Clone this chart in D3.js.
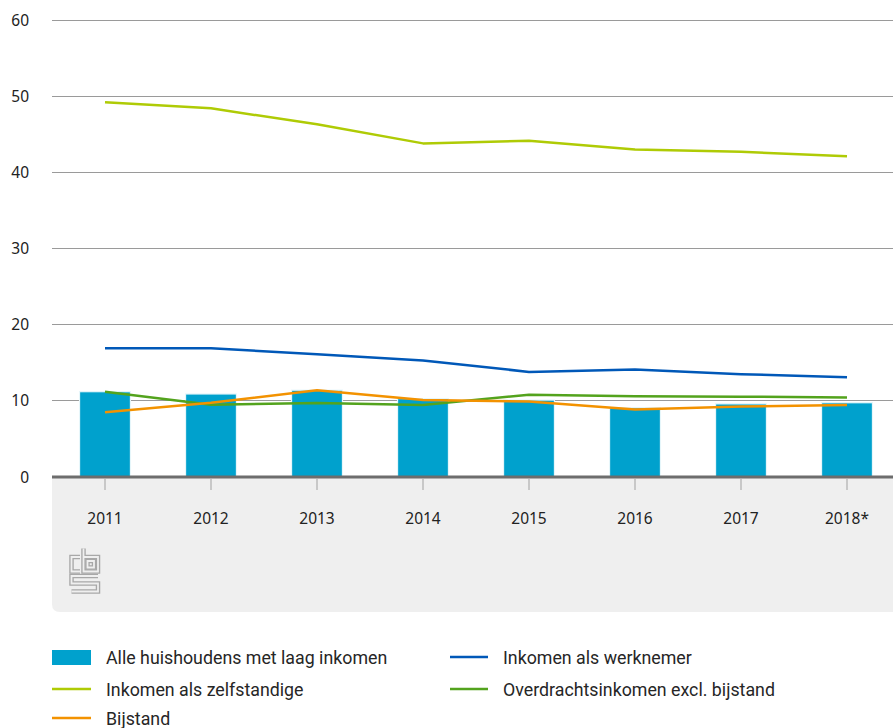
<!DOCTYPE html>
<html><head><meta charset="utf-8">
<script src="https://cdn.jsdelivr.net/npm/d3@7"></script>
<style>body{margin:0;background:#fff}svg{display:block}</style>
</head><body><svg id="c" width="893" height="728"></svg>
<script>
const years = ["2011","2012","2013","2014","2015","2016","2017","2018*"];
const yTicks = [0,10,20,30,40,50,60];
const alleHuishoudens = [11.2,10.9,11.4,10.3,10.1,9.1,9.6,9.75];
const werknemer = [16.9,16.9,16.1,15.3,13.8,14.1,13.5,13.1];
const zelfstandige = [49.2,48.4,46.3,43.8,44.15,43.0,42.7,42.1];
const overdracht = [11.2,9.5,9.7,9.45,10.8,10.6,10.55,10.45];
const bijstand = [8.5,9.75,11.4,10.1,9.9,8.85,9.25,9.45];
const seriesNames = ["Alle huishoudens met laag inkomen","Inkomen als werknemer","Inkomen als zelfstandige","Overdrachtsinkomen excl. bijstand","Bijstand"];
const colors = {bar:"#00a1cd", werk:"#0058b8", zelf:"#afcb05", over:"#53a31d", bij:"#f39200"};

const svg = d3.select("#c");
const L=52, R=893, T=20, B=477;
const x = d3.scaleBand().domain(years).range([L,900]).paddingInner(0.52).paddingOuter(0.26);
const xc = d => x(d)+x.bandwidth()/2;
const y = d3.scaleLinear().domain([0,60]).range([B,T]);
const font = "'Noto Sans', sans-serif";

// grey panel under axis
svg.append("path")
  .attr("d",`M${L},${B} H${R} V612 H${L+8} Q${L},612 ${L},604 Z`)
  .attr("fill","#efefef");

// gridlines
svg.append("g").selectAll("line").data(yTicks.filter(t=>t>0)).join("line")
  .attr("x1",L).attr("x2",R).attr("y1",d=>y(d)).attr("y2",d=>y(d))
  .attr("stroke","#9a9a9a").attr("stroke-width",1).attr("shape-rendering","crispEdges");

// y labels
svg.append("g").selectAll("text").data(yTicks).join("text")
  .attr("x",29).attr("y",d=>y(d)+5.5).attr("text-anchor","end")
  .attr("font-family",font).attr("font-size",15.5).attr("fill","#222").text(d=>d);

// bars
svg.append("g").selectAll("rect").data(years).join("rect")
  .attr("x",d=>x(d)).attr("width",x.bandwidth())
  .attr("y",(d,i)=>y(alleHuishoudens[i])).attr("height",(d,i)=>B-y(alleHuishoudens[i]))
  .attr("fill",colors.bar).attr("stroke","#e6f6fa").attr("stroke-width",1.2);

// baseline
svg.append("line").attr("x1",L).attr("x2",R).attr("y1",B).attr("y2",B)
  .attr("stroke","#6d6d6d").attr("stroke-width",3);

// x ticks
const xAxis = svg.append("g");
xAxis.selectAll("line").data(years).join("line")
  .attr("x1",xc).attr("x2",xc).attr("y1",B+2).attr("y2",490)
  .attr("stroke","#c8c8c8").attr("stroke-width",2);
xAxis.selectAll("text").data(years).join("text")
  .attr("x",xc).attr("y",524).attr("text-anchor","middle")
  .attr("font-family",font).attr("font-size",15.5).attr("fill","#222").text(d=>d);

// lines
const line = d3.line().x((d,i)=>xc(years[i])).y(d=>y(d));
[[werknemer,colors.werk],[zelfstandige,colors.zelf],[overdracht,colors.over],[bijstand,colors.bij]].forEach(([data,c])=>{
  svg.append("path").datum(data).attr("d",line).attr("fill","none")
    .attr("stroke",c).attr("stroke-width",2.5).attr("stroke-linejoin","round");
});

// CBS logo (outlined strokes)
const logoPaths = [
  "M80,557 H71.5 V571.5 H80",
  "M83.5,548.5 V571.5 H98 V557 H83.5",
  "M87.5,561 H94 V567.5 H87.5 Z",
  "M98,576 H71.5 V583.5 H98 V591.5 H71.5"
];
const logo = svg.append("g").attr("fill","none");
logoPaths.forEach(p=>{
  logo.append("path").attr("d",p).attr("stroke","#a8a8a8").attr("stroke-width",4.5);
});
logoPaths.forEach(p=>{
  logo.append("path").attr("d",p).attr("stroke","#efefef").attr("stroke-width",1.8);
});

// legend
const lg = svg.append("g").attr("font-family","Roboto, sans-serif").attr("font-size",17.8).attr("fill","#262626");
const items = [
  {n:seriesNames[0],t:"bar",c:colors.bar,x:52,y:657},
  {n:seriesNames[1],t:"line",c:colors.werk,x:450,y:657},
  {n:seriesNames[2],t:"line",c:colors.zelf,x:52,y:689},
  {n:seriesNames[3],t:"line",c:colors.over,x:450,y:689},
  {n:seriesNames[4],t:"line",c:colors.bij,x:52,y:718}
];
items.forEach(it=>{
  const right = it.x>400;
  if(it.t==="bar") lg.append("rect").attr("x",it.x).attr("y",it.y-7).attr("width",39).attr("height",15).attr("fill",it.c);
  else lg.append("line").attr("x1",it.x).attr("x2",it.x+(right?38:39)).attr("y1",it.y).attr("y2",it.y).attr("stroke",it.c).attr("stroke-width",2.5);
  lg.append("text").attr("x",it.x+(right?53:54)).attr("y",it.y+6.5).text(it.n);
});
</script></body></html>
